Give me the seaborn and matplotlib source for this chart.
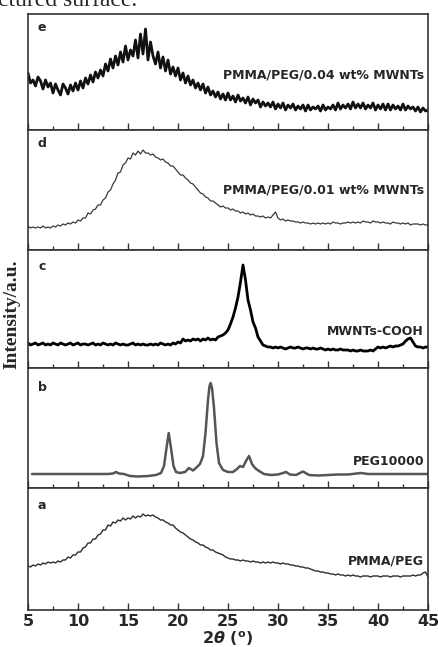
import numpy as np
import pandas as pd
import matplotlib
matplotlib.use("Agg")
import matplotlib.pyplot as plt
import seaborn as sns
from matplotlib.ticker import MultipleLocator

sns.set_style("white")
plt.rcParams['font.family'] = ['DejaVu Sans']
plt.rcParams['mathtext.fontset'] = 'custom'
plt.rcParams['mathtext.rm'] = 'DejaVu Sans:bold'
plt.rcParams['mathtext.it'] = 'DejaVu Sans:bold:italic'
plt.rcParams['mathtext.bf'] = 'DejaVu Sans:bold'

# ---------------- data (intensity, a.u.) ----------------
two_theta_q = [5 + 0.25 * i for i in range(161)]

e_int = [57, 47, 50, 44, 53, 49, 41, 50, 43, 47, 37, 46, 40, 35, 46, 42,
         36, 45, 39, 47, 40, 49, 42, 52, 46, 55, 48, 58, 52, 60, 54, 66,
         59, 71, 62, 74, 65, 78, 68, 84, 70, 80, 74, 90, 72, 96, 76, 101,
         70, 88, 74, 66, 78, 62, 73, 59, 70, 56, 63, 54, 62, 50, 57, 47,
         54, 45, 50, 42, 47, 40, 46, 37, 43, 35, 39, 33, 38, 31, 36, 30,
         37, 30, 34, 28, 35, 29, 32, 27, 33, 25, 31, 27, 30, 23, 28, 24,
         27, 23, 28, 21, 26, 22, 27, 20, 25, 22, 26, 20, 24, 21, 25, 19,
         25, 20, 23, 21, 24, 19, 25, 20, 23, 21, 25, 20, 27, 21, 25, 22,
         26, 21, 28, 22, 26, 22, 27, 21, 25, 22, 27, 20, 25, 21, 26, 20,
         26, 20, 25, 21, 24, 20, 26, 20, 24, 21, 23, 19, 23, 18, 22, 19,
         20]

d_int = [24, 22, 23, 22, 23, 22, 24, 22, 23, 22, 24, 23, 25, 24, 26, 25,
         27, 26, 28, 27, 30, 29, 32, 32, 37, 36, 40, 41, 45, 45, 50, 52,
         58, 60, 66, 70, 77, 78, 85, 87, 92, 91, 97, 95, 99, 96, 100, 97,
         97, 95, 96, 93, 92, 90, 91, 88, 87, 84, 84, 81, 78, 75, 75, 72,
         70, 67, 66, 63, 60, 57, 56, 53, 52, 49, 49, 47, 45, 43, 44, 42,
         42, 40, 41, 39, 39, 37, 38, 36, 37, 35, 36, 34, 34, 33, 34, 32,
         33, 32, 35, 38, 32, 30, 31, 29, 30, 29, 29, 28, 28, 27, 28, 27,
         27, 26, 27, 26, 27, 26, 27, 26, 27, 26, 28, 27, 27, 26, 27, 27,
         28, 27, 28, 27, 28, 27, 29, 28, 28, 27, 29, 28, 28, 27, 28, 27,
         27, 26, 28, 27, 27, 26, 27, 26, 27, 25, 26, 26, 26, 25, 26, 25,
         25]

c_int = [25, 23, 24, 25, 23, 24, 25, 23, 24, 23, 25, 24, 23, 25, 24, 23,
         24, 25, 23, 24, 25, 23, 24, 24, 23, 24, 25, 23, 24, 23, 25, 24,
         23, 24, 23, 25, 24, 23, 24, 23, 23, 24, 25, 23, 24, 23, 24, 23,
         23, 24, 23, 24, 23, 25, 24, 23, 24, 23, 25, 24, 26, 25, 29, 27,
         28, 27, 29, 28, 29, 27, 29, 28, 30, 28, 29, 28, 31, 32, 33, 35,
         38, 44, 51, 60, 71, 86, 103, 88, 68, 58, 46, 40, 31, 27, 23, 22,
         21, 21, 20, 21, 20, 21, 20, 19, 20, 21, 20, 20, 21, 20, 19, 20,
         20, 19, 20, 19, 19, 20, 19, 18, 19, 18, 19, 18, 18, 19, 18, 18,
         18, 17, 18, 17, 17, 18, 17, 17, 17, 18, 17, 19, 21, 20, 21, 20,
         21, 22, 21, 22, 22, 23, 24, 27, 29, 30, 26, 22, 21, 21, 20, 21,
         21]

b_theta = [5.4, 6, 8, 10, 12, 13, 13.5, 13.8, 14.1, 14.6, 15.2, 16, 17, 17.8,
           18.3, 18.6, 18.85, 19.07, 19.3, 19.55, 19.8, 20.2, 20.7, 21.1, 21.5,
           21.9, 22.2, 22.5, 22.75, 23.0, 23.15, 23.27, 23.4, 23.6, 23.85, 24.1,
           24.5, 25.0, 25.5, 25.9, 26.2, 26.5, 26.8, 27.1, 27.4, 27.7, 28.1,
           28.6, 29.3, 30.0, 30.5, 30.8, 31.2, 31.8, 32.5, 33.1, 34, 35, 36, 37,
           38.3, 39, 40, 42, 44, 45]
b_int = [14, 14, 14, 14, 14, 14, 14.5, 16, 14.5, 14, 12, 11.5, 12, 13,
         15, 22, 40, 55, 40, 22, 16, 15, 16, 20, 17.5,
         21, 24, 32, 55, 88, 102, 105, 100, 80, 45, 25,
         18, 16, 16, 19, 22, 21, 27, 32, 24, 20, 17,
         14, 13, 13.5, 15, 16, 13.5, 13, 16.5, 13, 12.5, 13, 13.5, 13.5,
         15, 14, 14, 14, 14, 14]

a_int = [44, 43, 45, 44, 46, 45, 47, 46, 48, 47, 48, 47, 49, 48, 50, 50,
         53, 52, 55, 55, 58, 58, 62, 63, 67, 67, 71, 71, 75, 76, 80, 80,
         85, 84, 88, 87, 90, 89, 92, 90, 92, 91, 94, 92, 94, 93, 96, 94,
         95, 94, 95, 93, 92, 90, 90, 88, 87, 85, 85, 82, 80, 78, 77, 75,
         73, 71, 70, 68, 67, 65, 65, 63, 62, 60, 60, 58, 57, 56, 55, 53,
         52, 51, 51, 50, 50, 49, 50, 49, 49, 48, 49, 48, 48, 47, 48, 47,
         48, 47, 48, 47, 47, 46, 47, 46, 46, 45, 45, 44, 44, 43, 43, 42,
         42, 41, 40, 39, 39, 38, 38, 37, 37, 36, 36, 35, 36, 35, 35, 34,
         35, 34, 35, 34, 34, 33, 34, 34, 34, 33, 34, 34, 34, 33, 34, 34,
         34, 33, 34, 34, 34, 33, 34, 34, 34, 34, 35, 34, 35, 35, 37, 38,
         33]

letters = ["e", "d", "c", "b", "a"]
names = ["PMMA/PEG/0.04 wt% MWNTs", "PMMA/PEG/0.01 wt% MWNTs",
         "MWNTs-COOH", "PEG10000", "PMMA/PEG"]
x_ticks = [5, 10, 15, 20, 25, 30, 35, 40, 45]

series = [
    (two_theta_q, e_int, "#111111", 2.0, 116),
    (two_theta_q, d_int, "#3a3a3a", 0.9, 120),
    (two_theta_q, c_int, "#000000", 2.0, 118),
    (b_theta, b_int, "#555555", 1.8, 120),
    (two_theta_q, a_int, "#2e2e2e", 1.0, 122),
]
name_y = [0.47, 0.50, 0.31, 0.22, 0.40]
letter_y = [0.88, 0.89, 0.86, 0.84, 0.86]

fig = plt.figure(figsize=(4.38, 6.47), dpi=100)
gs = fig.add_gridspec(5, 1, left=28/438, right=428/438,
                      bottom=1-610/647, top=1-14/647, hspace=0,
                      height_ratios=[116, 120, 118, 120, 122])
axes = [fig.add_subplot(gs[i]) for i in range(5)]

for i, ax in enumerate(axes):
    xs, ys, col, lw, ymax = series[i]
    df = pd.DataFrame({"two_theta": xs, "intensity": ys})
    sns.lineplot(data=df, x="two_theta", y="intensity", ax=ax, color=col,
                 lw=lw, estimator=None, sort=False)
    ax.set_xlim(5, 45)
    ax.set_ylim(0, ymax)
    ax.set_yticks([])
    ax.set_ylabel("")
    ax.set_xlabel("")
    ax.xaxis.set_major_locator(MultipleLocator(5))
    ax.xaxis.set_minor_locator(MultipleLocator(2.5))
    ax.tick_params(axis="x", which="major", direction="in", length=5,
                   width=1.0, color="#333333", bottom=True, top=False)
    ax.tick_params(axis="x", which="minor", direction="in", length=3,
                   width=1.0, color="#333333", bottom=True, top=False)
    for sp in ax.spines.values():
        sp.set_color("#333333")
        sp.set_linewidth(1.2)
    if i < 4:
        ax.set_xticklabels([])
    ax.text(0.035, letter_y[i], letters[i], transform=ax.transAxes,
            fontsize=9, fontweight="bold", ha="center", va="center")
    ax.text(0.99, name_y[i], names[i], transform=ax.transAxes,
            fontsize=9, fontweight="bold", ha="right", va="center")

axes[-1].set_xticks(x_ticks)
axes[-1].set_xticklabels([str(t) for t in x_ticks], fontsize=11.5,
                         fontweight="bold")
axes[-1].tick_params(axis="x", which="major", pad=3)
axes[-1].set_xlabel(r"2$\mathit{θ}$ ($\mathregular{^{o}}$)", fontsize=11.5,
                    fontweight="bold", labelpad=0)

fig.text(12/438, 1-314/647, "Intensity/a.u.", rotation=90, ha="center",
         va="center", fontsize=14, fontweight="bold",
         family=["Liberation Serif", "DejaVu Serif"])
fig.text(-0.005, 1.0, "ctured surface.", ha="left", va="center",
         fontsize=17, family=["Liberation Serif", "DejaVu Serif"])

fig.savefig("out.png", dpi=100)
